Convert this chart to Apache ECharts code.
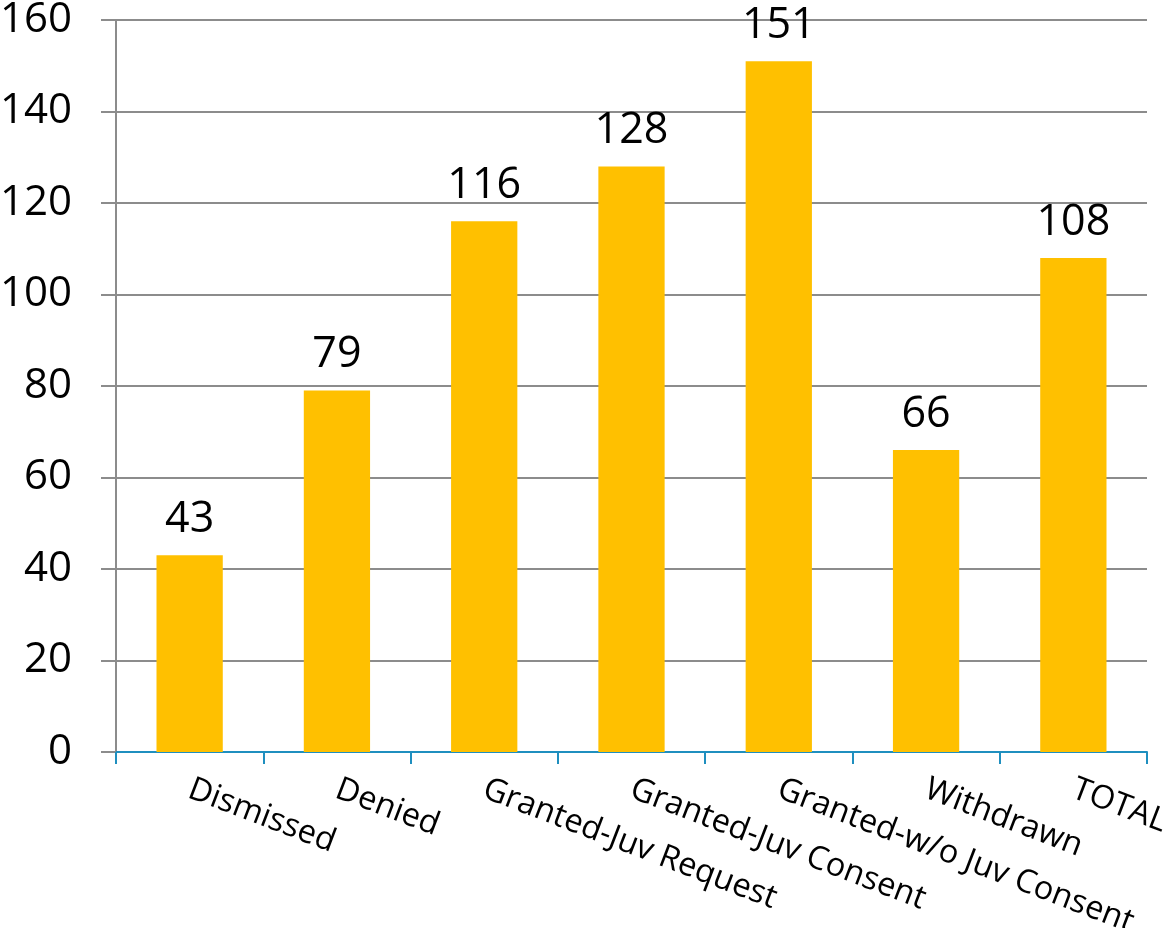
<!DOCTYPE html>
<html><head><meta charset="utf-8">
<script src="https://cdn.jsdelivr.net/npm/echarts@6/dist/echarts.min.js"></script>
<style>html,body{margin:0;padding:0;background:#fff}#c{width:1166px;height:928px}</style>
</head><body><div id="c"></div>
<script>
const categories = ["Dismissed","Denied","Granted-Juv Request","Granted-Juv Consent","Granted-w/o Juv Consent","Withdrawn","TOTAL"];
const values = [43,79,116,128,151,66,108];
const yTicks = [0,20,40,60,80,100,120,140,160];

const chart = echarts.init(document.getElementById('c'));
chart.setOption({
  animation:false,
  grid:{left:116,right:19,top:20,bottom:176,containLabel:false,outerBoundsMode:'none'},
  xAxis:{type:'category',data:categories,boundaryGap:true,
    axisLine:{lineStyle:{color:'#1f8fbf',width:2}},
    axisTick:{show:true,length:12,alignWithLabel:false,lineStyle:{color:'#1f8fbf',width:2}},
    axisLabel:{rotate:-21,margin:36,interval:0,color:'#000',fontFamily:'Open Sans',fontSize:32.5}
  },
  yAxis:{type:'value',min:0,max:160,interval:20,
    axisLine:{show:true,lineStyle:{color:'#8c8c8c',width:2}},
    axisTick:{show:true,length:15,lineStyle:{color:'#8c8c8c',width:2}},
    splitLine:{lineStyle:{color:'#8c8c8c',width:2}},
    axisLabel:{margin:44,color:'#000',fontFamily:'Open Sans',fontSize:42,formatter:v=>yTicks.includes(v)?String(v):''}
  },
  series:[{type:'bar',data:values,barWidth:'45%',itemStyle:{color:'#FFC000'},
    label:{show:true,position:'top',distance:14,color:'#000',fontFamily:'Open Sans',fontSize:43}}]
});
</script></body></html>
